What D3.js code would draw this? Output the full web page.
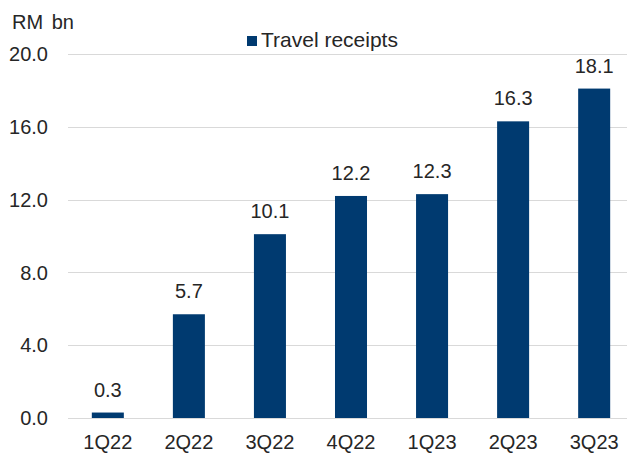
<!DOCTYPE html>
<html>
<head>
<meta charset="utf-8">
<script src="https://cdn.jsdelivr.net/npm/d3@7"></script>
<style>
  html, body { margin: 0; padding: 0; background: #fff; overflow: hidden; }
  svg { display: block; font-family: "Liberation Sans", Arial, sans-serif; }
</style>
</head>
<body>
<svg id="chart" width="627" height="454"></svg>
<script>
// Quarterly travel receipts, RM billion
const quarters = ["1Q22", "2Q22", "3Q22", "4Q22", "1Q23", "2Q23", "3Q23"];
const receipts = [0.3, 5.7, 10.1, 12.2, 12.3, 16.3, 18.1];
const yTicks = [0, 4, 8, 12, 16, 20];
const seriesName = "Travel receipts";
const unitLabel = "RM bn";

const barColor = "#003a70";
const textColor = "#262626";
const gridColor = "#d9d9d9";
const fontSize = 20;

const svg = d3.select("#chart");

const x = d3.scaleBand()
  .domain(quarters)
  .range([67.5, 634.5])
  .paddingInner(0.605)
  .paddingOuter(0.3);

const y = d3.scaleLinear()
  .domain([0, 20])
  .range([418, 54]);

// Gridlines
svg.append("g")
  .selectAll("line")
  .data(yTicks)
  .join("line")
  .attr("x1", 68)
  .attr("x2", 627)
  .attr("y1", d => Math.round(y(d)) + 0.5)
  .attr("y2", d => Math.round(y(d)) + 0.5)
  .attr("stroke", gridColor)
  .attr("stroke-width", 1);

// Y axis labels
const yAxis = d3.axisLeft(y)
  .tickValues(yTicks)
  .tickFormat(d3.format(".1f"))
  .tickSize(0)
  .tickPadding(0);

svg.append("g")
  .attr("transform", "translate(48,0)")
  .call(yAxis)
  .call(g => g.select(".domain").remove())
  .call(g => g.selectAll("text")
    .attr("fill", textColor)
    .attr("font-size", fontSize)
    .attr("dy", "0.33em")
    .attr("font-family", "Liberation Sans, Arial, sans-serif"));

// X axis labels
const xAxis = d3.axisBottom(x).tickSize(0).tickPadding(0);
svg.append("g")
  .attr("transform", "translate(0,449)")
  .call(xAxis)
  .call(g => g.select(".domain").remove())
  .call(g => g.selectAll("text")
    .attr("fill", textColor)
    .attr("font-size", fontSize)
    .attr("y", 0)
    .attr("dy", 0)
    .attr("font-family", "Liberation Sans, Arial, sans-serif"));

// Bars
const rows = quarters.map((q, i) => ({ q, v: receipts[i] }));
svg.append("g")
  .selectAll("rect")
  .data(rows)
  .join("rect")
  .attr("x", d => x(d.q))
  .attr("width", x.bandwidth())
  .attr("y", d => y(d.v))
  .attr("height", d => y(0) - y(d.v))
  .attr("fill", barColor);

// Value labels
svg.append("g")
  .selectAll("text")
  .data(rows)
  .join("text")
  .attr("x", d => x(d.q) + x.bandwidth() / 2)
  .attr("y", d => y(d.v) - 16)
  .attr("text-anchor", "middle")
  .attr("fill", textColor)
  .attr("font-size", fontSize)
  .text(d => d3.format(".1f")(d.v));

// Unit label
svg.append("text")
  .attr("x", 12)
  .attr("y", 29)
  .attr("fill", textColor)
  .attr("font-size", fontSize)
  .attr("word-spacing", 3)
  .text(unitLabel);

// Legend
const legend = svg.append("g").attr("transform", "translate(247,36)");
legend.append("rect")
  .attr("width", 10)
  .attr("height", 10)
  .attr("fill", barColor);
legend.append("text")
  .attr("x", 14)
  .attr("y", 10.5)
  .attr("fill", textColor)
  .attr("font-size", 21)
  .text(seriesName);
</script>
</body>
</html>
